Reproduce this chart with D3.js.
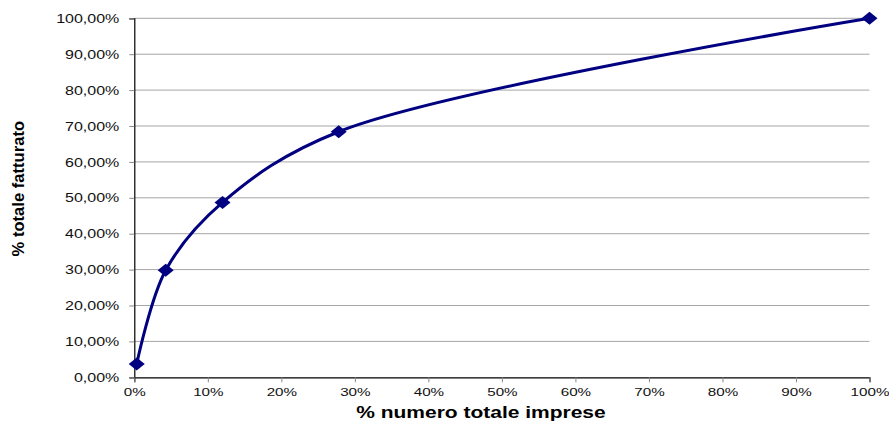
<!DOCTYPE html>
<html>
<head>
<meta charset="utf-8">
<script src="https://cdn.jsdelivr.net/npm/d3@7"></script>
<style>
  body { margin: 0; background: #fff; }
  svg { display: block; }
</style>
</head>
<body>
<script>
// Cumulative share: % of companies vs % of turnover
const impresePct = [0.33, 4.27, 12.0, 27.8, 100];
const fatturatoPct = [3.7, 29.8, 48.7, 68.4, 100];
const yTicks = [0, 10, 20, 30, 40, 50, 60, 70, 80, 90, 100];
const xTicks = [0, 10, 20, 30, 40, 50, 60, 70, 80, 90, 100];

const data = impresePct.map((x, i) => ({ x, y: fatturatoPct[i] }));

const width = 889, height = 423;
const margin = { top: 18.3, right: 19.5, bottom: 45.7, left: 134.3 };

const svg = d3.select("body").append("svg")
  .attr("width", width)
  .attr("height", height)
  .style("font-family", "'Liberation Sans', Arial, sans-serif");

const x = d3.scaleLinear().domain([0, 100]).range([margin.left, width - margin.right]);
const y = d3.scaleLinear().domain([0, 100]).range([height - margin.bottom, margin.top]);

// stretch text horizontally (the reference is rendered wider than tall)
function stretch(sel, k) {
  sel.each(function() {
    const w = this.getComputedTextLength();
    d3.select(this).attr("textLength", w * k).attr("lengthAdjust", "spacingAndGlyphs");
  });
}

// gridlines
svg.append("g")
  .selectAll("line")
  .data(yTicks.filter(d => d > 0))
  .join("line")
  .attr("x1", x(0)).attr("x2", x(100))
  .attr("y1", d => y(d)).attr("y2", d => y(d))
  .attr("stroke", "#a6a6a6")
  .attr("stroke-width", 1);

// y axis
const yAxis = svg.append("g")
  .attr("transform", `translate(${x(0)},0)`)
  .call(d3.axisLeft(y).tickValues(yTicks).tickSize(5).tickPadding(10)
    .tickFormat(d => d3.format(".2f")(d).replace(".", ",") + "%"));
yAxis.select(".domain").attr("stroke", "#000").attr("stroke-width", 1.2);
yAxis.selectAll(".tick line").attr("stroke", "#888");
yAxis.selectAll("text")
  .attr("font-size", 13)
  .attr("fill", "#111")
  .attr("font-family", "'Liberation Sans', Arial, sans-serif")
  .call(stretch, 1.23);

// x axis
const xAxis = svg.append("g")
  .attr("transform", `translate(0,${y(0)})`)
  .call(d3.axisBottom(x).tickValues(xTicks).tickSize(5).tickPadding(6)
    .tickFormat(d => d + "%"));
xAxis.select(".domain").attr("stroke", "#000").attr("stroke-width", 1.2);
xAxis.selectAll(".tick line").attr("stroke", "#888");
xAxis.selectAll("text")
  .attr("font-size", 11.5)
  .attr("fill", "#111")
  .attr("font-family", "'Liberation Sans', Arial, sans-serif")
  .call(stretch, 1.32);

// smoothed line
const line = d3.line()
  .x(d => x(d.x))
  .y(d => y(d.y))
  .curve(d3.curveCatmullRom.alpha(0.5));

svg.append("path")
  .datum(data)
  .attr("d", line)
  .attr("fill", "none")
  .attr("stroke", "#000080")
  .attr("stroke-width", 3);

// diamond markers
svg.append("g")
  .selectAll("path")
  .data(data)
  .join("path")
  .attr("d", "M0,-6.5L8,0L0,6.5L-8,0Z")
  .attr("transform", d => `translate(${x(d.x)},${y(d.y)})`)
  .attr("fill", "#000080");

// axis titles
svg.append("text")
  .attr("x", 481)
  .attr("y", 418)
  .attr("text-anchor", "middle")
  .attr("font-size", 16.8)
  .attr("font-weight", "bold")
  .text("% numero totale imprese")
  .call(stretch, 1.25);

svg.append("text")
  .attr("transform", "translate(24,188.7) rotate(-90)")
  .attr("text-anchor", "middle")
  .attr("font-size", 16.6)
  .attr("font-weight", "bold")
  .text("% totale fatturato");
</script>
</body>
</html>
